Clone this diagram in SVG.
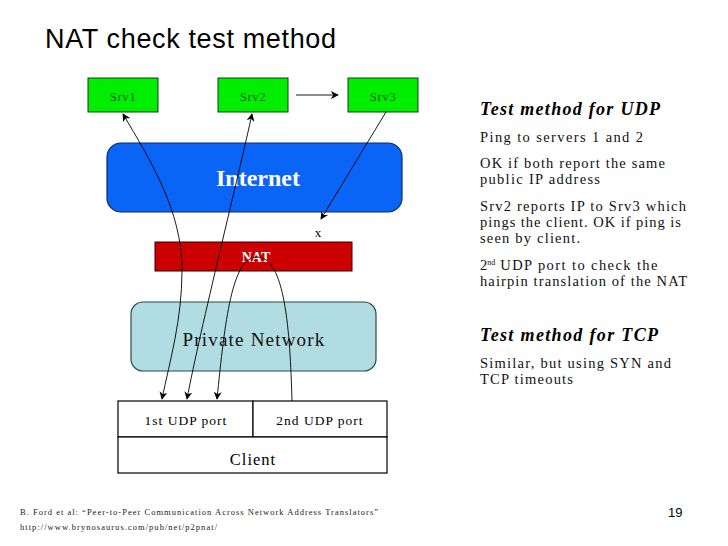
<svg xmlns="http://www.w3.org/2000/svg" width="728" height="546" viewBox="0 0 728 546">
<defs>
<style>
.serif{font-family:"Liberation Serif","Times New Roman",serif;}
.sans{font-family:"Liberation Sans",Arial,sans-serif;}
.srv{fill:#00ee00;stroke:#1a3a1a;stroke-width:1;}
.srvt{fill:#1f5f1f;font-size:13px;letter-spacing:0.5px;}
.box{fill:#ffffff;stroke:#000;stroke-width:1.2;}
.line{fill:none;stroke:#000;stroke-width:0.9;}
.body{font-size:14.5px;fill:#111;}
.head{font-size:18px;font-weight:bold;font-style:italic;fill:#000;}
.foot{font-size:8.5px;fill:#222;}
</style>
<marker id="ah" viewBox="0 0 10 10" refX="9" refY="5" markerWidth="8" markerHeight="8" orient="auto-start-reverse" markerUnits="userSpaceOnUse">
<path d="M0,0 L10,5 L0,10 L3,5 z" fill="#000"/>
</marker>
</defs>
<rect width="728" height="546" fill="#ffffff"/>
<text class="sans" x="45" y="48" font-size="27" fill="#000" textLength="291">NAT check test method</text>

<g id="srv1"><rect class="srv" x="88" y="78" width="70" height="34"/><text class="serif srvt" x="123" y="101" text-anchor="middle">Srv1</text></g>
<g id="srv2"><rect class="srv" x="218" y="78" width="70" height="34"/><text class="serif srvt" x="253" y="101" text-anchor="middle">Srv2</text></g>
<g id="srv3"><rect class="srv" x="348" y="78" width="70" height="34"/><text class="serif srvt" x="383" y="101" text-anchor="middle">Srv3</text></g>

<g id="internet"><rect x="107" y="143" width="295" height="69" rx="14" fill="#0a64f5" stroke="#0a2a6a" stroke-width="1.2"/><text class="serif" x="258" y="186" text-anchor="middle" font-size="24" font-weight="bold" fill="#ffffff">Internet</text></g>

<g id="nat"><rect x="155" y="242" width="197" height="29" fill="#cc0000" stroke="#330000" stroke-width="1"/><text class="serif" x="256" y="262" text-anchor="middle" font-size="14" font-weight="bold" fill="#ffffff">NAT</text></g>

<g id="private"><rect x="131" y="302" width="245" height="69" rx="12" fill="#b0dce2" stroke="#2a4a4a" stroke-width="1.2"/><text class="serif" x="254" y="346" text-anchor="middle" font-size="19" fill="#111" letter-spacing="1.2">Private Network</text></g>

<g id="client">
<rect class="box" x="118" y="401" width="135" height="36"/>
<rect class="box" x="253" y="401" width="134" height="36"/>
<rect class="box" x="118" y="437" width="269" height="36"/>
<text class="serif" x="186" y="425" text-anchor="middle" font-size="13.5" letter-spacing="1">1st UDP port</text>
<text class="serif" x="320" y="425" text-anchor="middle" font-size="13.5" letter-spacing="1">2nd UDP port</text>
<text class="serif" x="253" y="465" text-anchor="middle" font-size="16.5" letter-spacing="1">Client</text>
</g>

<text class="serif" x="318" y="237" text-anchor="middle" font-size="13" fill="#000">x</text>

<g id="connectors">
<line class="line" x1="296" y1="95" x2="338" y2="95" marker-end="url(#ah)"/>
<path class="line" d="M123,114 C150,160 182,210 182,270 C182,320 170,360 162,399" marker-start="url(#ah)" marker-end="url(#ah)"/>
<path class="line" d="M252,114 C240,170 200,330 187,399" marker-start="url(#ah)" marker-end="url(#ah)"/>
<path class="line" d="M386,112 L321,219" marker-end="url(#ah)"/>
<path class="line" d="M292,401 C290,330 285,257 257,257 C232,257 225,320 217,399" marker-end="url(#ah)"/>
</g>

<g id="notes" class="serif">
<text class="head" x="480" y="115" textLength="180">Test method for UDP</text>
<text class="body" x="480" y="142" textLength="163">Ping to servers 1 and 2</text>
<text class="body" x="480" y="168" textLength="185">OK if both report the same</text>
<text class="body" x="480" y="184" textLength="120">public IP address</text>
<text class="body" x="480" y="211" textLength="206">Srv2 reports IP to Srv3 which</text>
<text class="body" x="480" y="227" textLength="201">pings the client. OK if ping is</text>
<text class="body" x="480" y="243" textLength="100">seen by client.</text>
<text class="body" x="480" y="270">2<tspan font-size="8" dy="-5">nd</tspan><tspan dy="5" letter-spacing="1.4"> UDP port to check the</tspan></text>
<text class="body" x="480" y="286" textLength="207">hairpin translation of the NAT</text>
<text class="head" x="480" y="341" textLength="178">Test method for TCP</text>
<text class="body" x="480" y="368" textLength="191">Similar, but using SYN and</text>
<text class="body" x="480" y="384" textLength="93">TCP timeouts</text>
</g>

<text class="serif foot" x="20" y="515" textLength="358">B. Ford et al: “Peer-to-Peer Communication Across Network Address Translators”</text>
<text class="serif foot" x="20" y="530" textLength="197">http://www.brynosaurus.com/pub/net/p2pnat/</text>
<text class="sans" x="668" y="517" font-size="13" fill="#000">19</text>
</svg>
